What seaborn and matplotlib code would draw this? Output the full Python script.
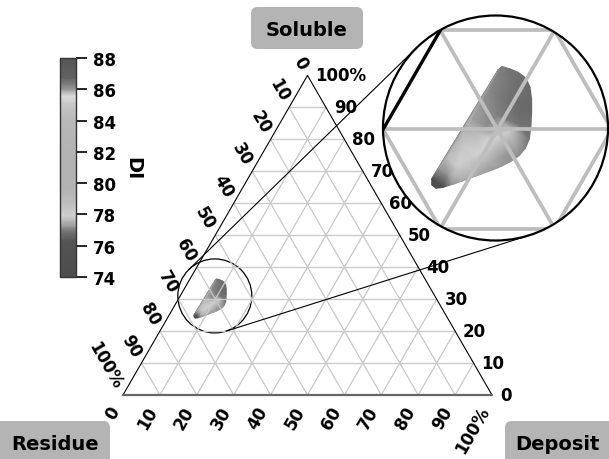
import numpy as np
import pandas as pd
import matplotlib
matplotlib.use('Agg')
import matplotlib.pyplot as plt
import matplotlib.tri as mtri
from matplotlib.colors import LinearSegmentedColormap
from matplotlib.patches import Circle, FancyBboxPatch
from matplotlib.lines import Line2D
import seaborn as sns

# DI surface sampled in ternary space (percent soluble / percent deposit)
# outline of the measured region first, then interior samples
soluble = [36.38, 36.11, 35.77, 35.17, 34.26, 33.08, 31.74, 30.39, 29.04, 28.10,
           27.36, 26.76, 26.28, 25.88, 25.51, 25.17, 24.84, 24.43, 24.16, 24.06,
           24.40, 25.01, 26.08, 27.19, 28.37, 29.65, 30.96, 32.34, 33.75, 35.27, 36.04,
           25.51, 26.35, 27.02, 27.70, 28.37, 29.72, 29.04, 29.89, 30.39, 31.40,
           32.75, 33.75, 34.43, 32.07, 30.39, 27.36, 26.69, 25.68, 25.34]
deposit = [7.18, 8.04, 8.94, 9.92, 10.72, 11.45, 12.12, 12.74, 13.27, 13.39,
           13.23, 12.78, 12.23, 11.56, 10.87, 10.16, 9.45, 8.78, 8.19, 7.60,
           7.05, 6.75, 6.79, 6.96, 7.11, 7.20, 7.27, 7.31, 7.32, 7.16, 7.06,
           7.81, 8.27, 9.09, 9.63, 7.84, 8.32, 10.12, 11.16, 8.87, 9.23,
           9.44, 7.76, 9.18, 10.93, 11.78, 11.84, 10.72, 9.76, 8.47]
di = [86.3, 86.5, 86.5, 86.6, 86.6, 86.6, 86.6, 86.5, 86.5, 86.3,
      86.1, 86.05, 86.0, 86.0, 85.95, 85.85, 85.9, 77.2, 74.0, 74.0,
      74.0, 74.0, 77.2, 79.0, 84.0, 84.0, 85.95, 86.0, 86.1, 86.2, 86.3,
      77.2, 77.9, 78.0, 85.6, 85.1, 84.0, 85.6, 85.7, 86.1, 86.3,
      86.5, 86.3, 86.5, 86.6, 86.5, 86.0, 85.85, 84.0, 80.0]

tick_pct = [0, 10, 20, 30, 40, 50, 60, 70, 80, 90, 100]
tick_txt = ['0', '10', '20', '30', '40', '50', '60', '70', '80', '90', '100%']
cbar_ticks = [74, 76, 78, 80, 82, 84, 86, 88]

sns.set_style('white')
plt.rcParams['font.family'] = ['DejaVu Sans']
plt.rcParams['text.color'] = 'black'
plt.rcParams['axes.labelcolor'] = 'black'
plt.rcParams['ytick.color'] = 'black'

H = np.sqrt(3) / 2
PX = 369.0  # pixels per unit side

# grayscale map
nodes = [(74, .30), (76.27, .33), (76.9, .45), (77.3, .63), (77.9, .81), (78.6, .75),
         (79.7, .70), (81.8, .70), (84.0, .72), (85.05, .78), (85.58, .86),
         (86.1, .56), (86.76, .38), (88, .34)]
cmap = LinearSegmentedColormap.from_list(
    'digray', [((v - 74) / 14, (g, g, g)) for v, g in nodes])

S = np.array(soluble) / 100
D = np.array(deposit) / 100
tri = mtri.Triangulation(D + S / 2, S * H)

# grid lines as a long table
rows = []
for k in range(1, 10):
    t = k / 10
    segs = [((t / 2, t * H), (1 - t / 2, t * H)),
            ((t, 0), (t + (1 - t) / 2, (1 - t) * H)),
            ((1 - t, 0), ((1 - t) / 2, (1 - t) * H))]
    for j, (a, b) in enumerate(segs):
        rows.append({'x': a[0], 'y': a[1], 'line': f'{k}-{j}'})
        rows.append({'x': b[0], 'y': b[1], 'line': f'{k}-{j}'})
grid = pd.DataFrame(rows)


def draw_ternary(ax, scale):
    sns.lineplot(data=grid, x='x', y='y', units='line', estimator=None, sort=False,
                 color='#c8c8c8' if scale == 1 else '#bdbdbd', lw=0.9 * scale,
                 ax=ax, legend=False)
    ax.plot([0, 0.5, 1], [0, H, 0], color='black', lw=0.8 * scale,
            solid_capstyle='round')
    ax.plot([0, 1], [0, 0], color='#666666', lw=1.6 * scale)
    pc = ax.tripcolor(tri, di, cmap=cmap, vmin=74, vmax=88, shading='gouraud')
    return pc


fig = plt.figure(figsize=(6.09, 4.60), dpi=100)
ax = fig.add_axes([0, 0, 1, 1])
pc = draw_ternary(ax, 1)
ax.set_xlim(-123 / PX, 486 / PX)
ax.set_ylim(-64 / PX, 396 / PX)
ax.axis('off')

# tick labels
fs = 12
d_b = 14 / PX
d_l = 9 / PX
d_r = 8 / PX
for p, s in zip(tick_pct, tick_txt):
    t = p / 100
    # bottom (deposit)
    ax.text(t - 0.5 * d_b, -H * d_b, s, rotation=60, ha='right', va='center',
            rotation_mode='anchor', fontsize=fs, fontweight='bold')
    # left (residue)
    lx, ly = (1 - t) / 2, (1 - t) * H
    ax.text(lx - 0.5 * d_l, ly + H * d_l, s, rotation=-60, ha='right', va='center',
            rotation_mode='anchor', fontsize=fs, fontweight='bold')
    # right (soluble)
    ax.text(1 - t / 2 + d_r, t * H, s, ha='left', va='center',
            fontsize=fs, fontweight='bold')

# corner label boxes
boxes = [('Soluble', 251, 8, 112, 42, 307, 30),
         ('Residue', -10, 422, 120, 60, 55, 445),
         ('Deposit', 505, 422, 120, 60, 557, 445)]
for name, x0, y0, w, h, tx, ty in boxes:
    ax.add_patch(FancyBboxPatch(((x0 - 123) / PX, (396 - y0 - h) / PX), w / PX, h / PX,
                                boxstyle='round,pad=0,rounding_size=0.018',
                                fc='#b4b4b4', ec='none', clip_on=False))
    ax.text((tx - 123) / PX, (396 - ty) / PX, name, ha='center', va='center',
            fontsize=14, fontweight='bold')

# small circle around the zoomed region
zc = (0.2488, 0.2685)
zr = 37 / PX
ax.add_patch(Circle(zc, zr, fill=False, ec='black', lw=0.9))

# magnified inset
M = 3.1
ic = (0.2483, 0.2611)
R_px = 112.5
cx_px, cy_px = 495.5, 129
ax_in = fig.add_axes([(cx_px - R_px) / 609, (460 - cy_px - R_px) / 460,
                      2 * R_px / 609, 2 * R_px / 460])
ax_in.patch.set_visible(False)
half = R_px / (PX * M)
disc = Circle((0.5, 0.5), 0.5, transform=ax_in.transAxes, fc='white', ec='none', zorder=0)
ax_in.add_patch(disc)
draw_ternary(ax_in, 3)
clip = Circle((0.5, 0.5), 0.5, transform=ax_in.transAxes)
for art in ax_in.lines + ax_in.collections:
    art.set_clip_path(clip)
ax_in.set_xlim(ic[0] - half, ic[0] + half)
ax_in.set_ylim(ic[1] - half, ic[1] + half)
ax_in.axis('off')
ax_in.add_patch(Circle((0.5, 0.5), 0.5, transform=ax_in.transAxes, fill=False,
                       ec='black', lw=1.6, clip_on=False, zorder=5))

# tangent lines between the two circles
c1 = ax.transData.transform(zc)
r1 = ax.transData.transform((zc[0] + zr, zc[1]))[0] - c1[0]
bb = ax_in.bbox
c2 = np.array([(bb.x0 + bb.x1) / 2, (bb.y0 + bb.y1) / 2])
r2 = bb.width / 2
d = c2 - c1
L = np.hypot(*d)
th = np.arctan2(d[1], d[0])
for sgn in (1, -1):
    phi = th + sgn * np.arccos((r1 - r2) / L)
    n = np.array([np.cos(phi), np.sin(phi)])
    p1 = c1 + r1 * n
    p2 = c2 + r2 * n
    pts = fig.transFigure.inverted().transform([p1, p2])
    fig.add_artist(Line2D(pts[:, 0], pts[:, 1], color='black', lw=0.8,
                          transform=fig.transFigure))

# colour bar
cax = fig.add_axes([60 / 609, (460 - 278) / 460, 16 / 609, 219 / 460])
cb = fig.colorbar(pc, cax=cax, ticks=cbar_ticks)
cb.outline.set_edgecolor('#333333')
cb.outline.set_linewidth(1.0)
cax.tick_params(axis='y', length=8, width=1.2, labelsize=12, pad=4, right=True)
for lbl in cax.get_yticklabels():
    lbl.set_fontweight('bold')
cb.set_label('DI', rotation=270, fontsize=14, fontweight='bold', labelpad=19)

fig.savefig('out.png', dpi=100)
